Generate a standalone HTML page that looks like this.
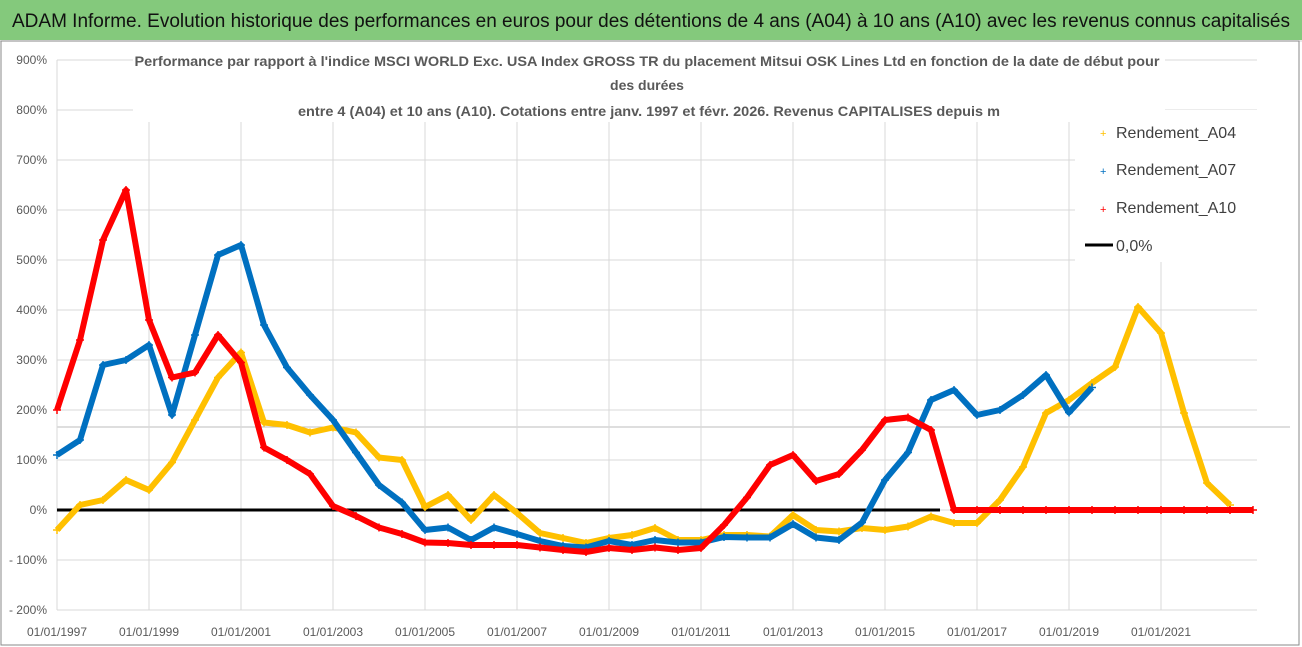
<!DOCTYPE html>
<html><head><meta charset="utf-8">
<style>
html,body{margin:0;padding:0;background:#fff;}
svg{display:block;font-family:"Liberation Sans",sans-serif;}
</style></head>
<body>
<svg id="chart" width="1302" height="647" viewBox="0 0 1302 647">
  <rect x="0" y="0" width="1302" height="647" fill="#fff"/>
  <rect x="0" y="0" width="1302" height="40" fill="#84c97c"/>
  <text x="12" y="27" font-size="19" fill="#111" textLength="1278" lengthAdjust="spacingAndGlyphs">ADAM Informe. Evolution historique des performances en euros pour des détentions de 4 ans (A04) à 10 ans (A10) avec les revenus connus capitalisés</text>
  <line x1="0" y1="41" x2="1302" y2="41" stroke="#cfcfcf" stroke-width="1"/>
  <rect x="1" y="41" width="1298" height="604" fill="none" stroke="#8a8a8a" stroke-width="1"/>
  <g id="grid"></g>
  <g id="axes"></g>
  <rect x="133" y="46" width="1032" height="76" fill="#fff"/>
  <g font-weight="bold" fill="#595959" font-size="14" text-anchor="middle">
    <text x="647" y="66" textLength="1025" lengthAdjust="spacingAndGlyphs">Performance par rapport à l'indice MSCI WORLD Exc. USA Index GROSS TR  du placement Mitsui OSK Lines Ltd en fonction de la date de début pour</text>
    <text x="647" y="90">des durées</text>
    <text x="649" y="116" textLength="702" lengthAdjust="spacingAndGlyphs">entre 4 (A04) et 10 ans (A10). Cotations entre janv. 1997 et févr. 2026. Revenus CAPITALISES depuis m</text>
  </g>
  <rect x="1075" y="110" width="215" height="152" fill="#fff"/>
  <g id="series"></g>
  <g id="legend" font-size="16" fill="#404040">
    <g><text x="1100" y="137" font-size="11" fill="#ffc000">+</text><text x="1116" y="138">Rendement_A04</text></g>
    <g><text x="1100" y="175" font-size="11" fill="#0070c0">+</text><text x="1116" y="175">Rendement_A07</text></g>
    <g><text x="1100" y="213" font-size="11" fill="#ff0000">+</text><text x="1116" y="213">Rendement_A10</text></g>
    <g><line x1="1085" y1="245" x2="1113" y2="245" stroke="#000" stroke-width="3"/><text x="1116" y="251">0,0%</text></g>
  </g>
</svg>
<script>
const yTicks=[900,800,700,600,500,400,300,200,100,0,-100,-200];
const yTickLabels=["900%","800%","700%","600%","500%","400%","300%","200%","100%","0%","- 100%","- 200%"];
const xTickYears=[1997,1999,2001,2003,2005,2007,2009,2011,2013,2015,2017,2019,2021];
const xTickLabels=["01/01/1997","01/01/1999","01/01/2001","01/01/2003","01/01/2005","01/01/2007","01/01/2009","01/01/2011","01/01/2013","01/01/2015","01/01/2017","01/01/2019","01/01/2021"];
const startYear=1997, stepYears=0.5;
const a04=[-40,10,20,60,40,95,180,265,315,175,170,155,165,155,105,100,6,30,-20,30,-6,-46,-56,-66,-56,-50,-36,-60,-60,-50,-50,-53,-10,-40,-43,-36,-40,-33,-13,-26,-26,20,86,194,220,254,286,406,354,194,54,10];
const a07=[110,140,290,300,330,190,350,510,530,370,285,230,180,115,50,15,-40,-35,-60,-35,-48,-62,-72,-75,-62,-70,-60,-65,-65,-54,-55,-55,-28,-55,-60,-25,60,115,220,240,190,200,230,270,195,245];
const a10=[200,340,540,640,380,265,275,350,295,125,100,72,8,-12,-35,-48,-65,-66,-70,-70,-70,-75,-80,-84,-76,-80,-75,-80,-76,-30,25,90,110,58,72,120,180,185,160,0,0,0,0,0,0,0,0,0,0,0,0,0,0];

const NS="http://www.w3.org/2000/svg";
const X0=57, PXY=46, Y0=510, PXV=0.5;
function xScale(year){return X0+(year-startYear)*PXY;}
function yScale(v){return Y0-v*PXV;}
function mk(tag,attrs,parent){const e=document.createElementNS(NS,tag);for(const k in attrs)e.setAttribute(k,attrs[k]);parent.appendChild(e);return e;}
const grid=document.getElementById('grid'), axes=document.getElementById('axes'), series=document.getElementById('series');
const xRight=1257;
yTicks.forEach((v,i)=>{
  const gl=mk('line',{x1:X0,x2:xRight,y1:yScale(v),y2:yScale(v),stroke:'#d9d9d9','stroke-width':1},grid);
  
  
  const t=mk('text',{x:47,y:yScale(v)+4,'text-anchor':'end','font-size':12,fill:'#595959'},axes);
  t.textContent=yTickLabels[i];
  
  
});
const extra=mk('line',{x1:X0,x2:1290,y1:427,y2:427,stroke:'#bdbdbd','stroke-width':1},grid);


xTickYears.forEach((yr,i)=>{
  const x=xScale(yr);
  const gl=mk('line',{x1:x,x2:x,y1:60,y2:610,stroke:'#d9d9d9','stroke-width':1},grid);
  
  
  const t=mk('text',{x:x,y:636,'text-anchor':'middle','font-size':12,fill:'#595959'},axes);
  t.textContent=xTickLabels[i];
  
  
});
const zero=mk('line',{x1:X0,x2:940,y1:yScale(0),y2:yScale(0),stroke:'#000','stroke-width':3},series);


function draw(vals,color,name){
  const g=mk('g',{},series);
  
  
  const pts=vals.map((v,i)=>xScale(startYear+i*stepYears).toFixed(1)+','+yScale(v).toFixed(1)).join(' ');
  mk('polyline',{points:pts,fill:'none',stroke:color,'stroke-width':6,'stroke-linejoin':'round'},g);
  vals.forEach((v,i)=>{
    const x=xScale(startYear+i*stepYears), y=yScale(v);
    const p=mk('path',{d:`M${x-4} ${y}H${x+4}M${x} ${y-4}V${y+4}`,stroke:color,'stroke-width':1.5},g);
    
    
  });
}
draw(a04,'#ffc000','series-a04');
draw(a07,'#0070c0','series-a07');
draw(a10,'#ff0000','series-a10');
</script>
</body></html>
